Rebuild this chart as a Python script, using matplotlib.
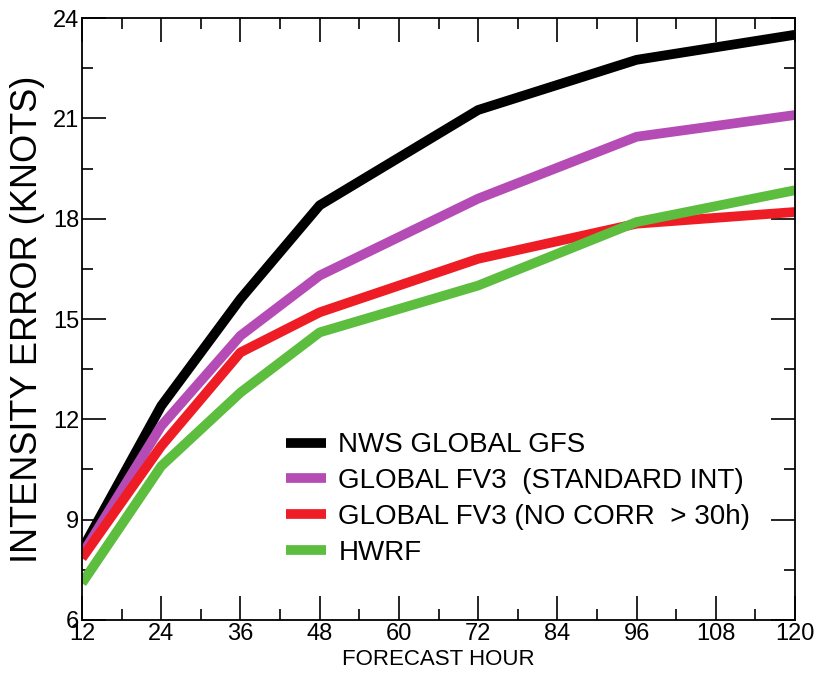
import matplotlib
matplotlib.use("Agg")
import matplotlib.pyplot as plt
from matplotlib.ticker import MultipleLocator

plt.rcParams['font.family'] = ['Liberation Sans Narrow', 'Liberation Sans', 'DejaVu Sans']

# forecast hours and mean intensity errors (kt)
hours = [12, 24, 36, 48, 72, 96, 120]
gfs = [8.1, 12.4, 15.6, 18.4, 21.25, 22.75, 23.5]
fv3_std = [7.95, 11.8, 14.5, 16.3, 18.6, 20.45, 21.1]
fv3_nocorr = [7.85, 11.2, 14.0, 15.2, 16.8, 17.85, 18.2]
hwrf = [7.1, 10.6, 12.8, 14.6, 16.0, 17.9, 18.85]

labels = ['NWS GLOBAL GFS', 'GLOBAL FV3  (STANDARD INT)',
          'GLOBAL FV3 (NO CORR  > 30h)', 'HWRF']
colors = ['#000000', '#b54cb5', '#ee1d25', '#5cbd3e']

fig = plt.figure(figsize=(8.14, 6.75), dpi=100)
ax = fig.add_axes([0.1007, 0.0815, 0.876, 0.8918])

for y, lab, c in zip([gfs, fv3_std, fv3_nocorr, hwrf], labels, colors):
    ax.plot(hours, y, color=c, lw=7, label=lab, solid_capstyle='butt')

ax.set_xlim(12, 120)
ax.set_ylim(6, 24)
ax.xaxis.set_major_locator(MultipleLocator(12))
ax.xaxis.set_minor_locator(MultipleLocator(6))
ax.yaxis.set_major_locator(MultipleLocator(3))
ax.yaxis.set_minor_locator(MultipleLocator(1.5))
ax.tick_params(which='both', direction='in', top=True, right=True, width=1.2)
ax.tick_params(which='major', length=17, labelsize=17, pad=2)
ax.tick_params(which='minor', length=8)
for s in ax.spines.values():
    s.set_linewidth(1.3)

ax.set_xlabel('FORECAST HOUR', fontsize=16, labelpad=3)
ax.set_ylabel('INTENSITY ERROR (KNOTS)', fontsize=26, labelpad=6,
              family=['Liberation Sans', 'DejaVu Sans'])

ax.legend(loc='upper left', bbox_to_anchor=(0.27, 0.33), frameon=False,
          fontsize=20, handlelength=1.45, handletextpad=0.45,
          labelspacing=0.35, borderaxespad=0)

fig.savefig('out.png', dpi=100)
